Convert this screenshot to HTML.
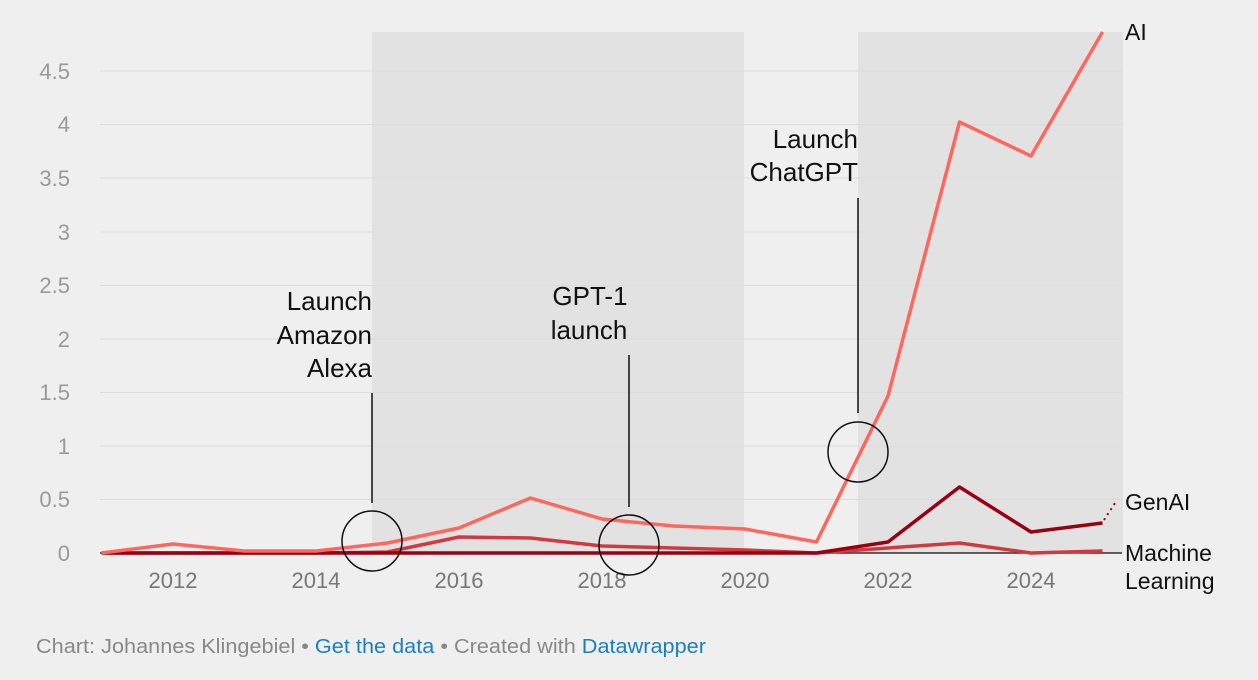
<!DOCTYPE html>
<html><head><meta charset="utf-8"><style>
html,body{margin:0;padding:0;background:#efefef;}
svg{display:block;font-family:"Liberation Sans",sans-serif;}
</style></head><body>
<svg width="1258" height="680" viewBox="0 0 1258 680" xmlns="http://www.w3.org/2000/svg">
<rect width="1258" height="680" fill="#efefef"/>
<rect x="372" y="32" width="372" height="521" fill="#e2e2e2"/>
<rect x="858" y="32" width="265" height="521" fill="#e2e2e2"/>
<g stroke="#dcdcdc" stroke-width="1">
<line x1="100" x2="1122" y1="71" y2="71"/><line x1="100" x2="1122" y1="124.5" y2="124.5"/>
<line x1="100" x2="1122" y1="178" y2="178"/><line x1="100" x2="1122" y1="232" y2="232"/>
<line x1="100" x2="1122" y1="285.5" y2="285.5"/><line x1="100" x2="1122" y1="339" y2="339"/>
<line x1="100" x2="1122" y1="392.5" y2="392.5"/><line x1="100" x2="1122" y1="446" y2="446"/>
<line x1="100" x2="1122" y1="499.5" y2="499.5"/>
</g>
<g fill="#9a9a9a" font-size="22" text-anchor="end">
<text x="70" y="79">4.5</text><text x="70" y="132">4</text><text x="70" y="186">3.5</text>
<text x="70" y="240">3</text><text x="70" y="293">2.5</text><text x="70" y="347">2</text>
<text x="70" y="400">1.5</text><text x="70" y="454">1</text><text x="70" y="507">0.5</text>
<text x="70" y="561">0</text>
</g>
<g fill="#777" font-size="22" text-anchor="middle">
<text x="173" y="588">2012</text><text x="316" y="588">2014</text><text x="459" y="588">2016</text>
<text x="602" y="588">2018</text><text x="745" y="588">2020</text><text x="888" y="588">2022</text>
<text x="1031" y="588">2024</text>
</g>
<line x1="100" x2="1122" y1="553" y2="553" stroke="#333" stroke-width="1.5"/>
<g fill="none" stroke-width="3.5" stroke-linejoin="round">
<polyline stroke="#d2393e" points="101.5,553 173,553 244.5,553 316,553 387.5,552 459,537 530.5,538 602,546 673.5,548 745,550 816.5,553 888,548 959.5,543 1031,553 1102.5,551"/>
<polyline stroke="#9b0012" points="101.5,553 816.5,553 888,542 959.5,487 1031,532 1102.5,523"/>
<polyline stroke="#ff675e" points="101.5,553 173,544 244.5,551 316,551 387.5,543 459,528 530.5,498 602,519 673.5,526 745,529 816.5,542 888,396 959.5,122 1031,156 1102.5,32"/>
<line x1="1104" y1="520" x2="1117" y2="500" stroke="#9b0012" stroke-width="2" stroke-dasharray="2,4"/>
</g>
<g fill="none" stroke="#111" stroke-width="1.5">
<circle cx="372" cy="541" r="30"/><circle cx="629" cy="545" r="30"/><circle cx="858" cy="452" r="30"/>
<line x1="372" y1="393" x2="372" y2="503"/><line x1="629" y1="355" x2="629" y2="507"/><line x1="858" y1="198" x2="858" y2="413"/>
</g>
<g fill="#111" font-size="26">
<g text-anchor="end"><text x="372" y="310">Launch</text><text x="372" y="344">Amazon</text><text x="372" y="377">Alexa</text>
<text x="858" y="148">Launch</text><text x="858" y="181">ChatGPT</text></g>
<g text-anchor="middle"><text x="590" y="305">GPT-1</text><text x="589" y="339">launch</text></g>
</g>
<g fill="#111" font-size="23">
<text x="1125" y="40">AI</text><text x="1125" y="510">GenAI</text>
<text x="1125" y="561">Machine</text><text x="1125" y="589">Learning</text>
</g>
<text x="36" y="653" font-size="20" fill="#888" textLength="670" lengthAdjust="spacingAndGlyphs">Chart: Johannes Klingebiel • <tspan fill="#1a7fc1">Get the data</tspan> • Created with <tspan fill="#1a7fc1">Datawrapper</tspan></text>
</svg>
</body></html>
